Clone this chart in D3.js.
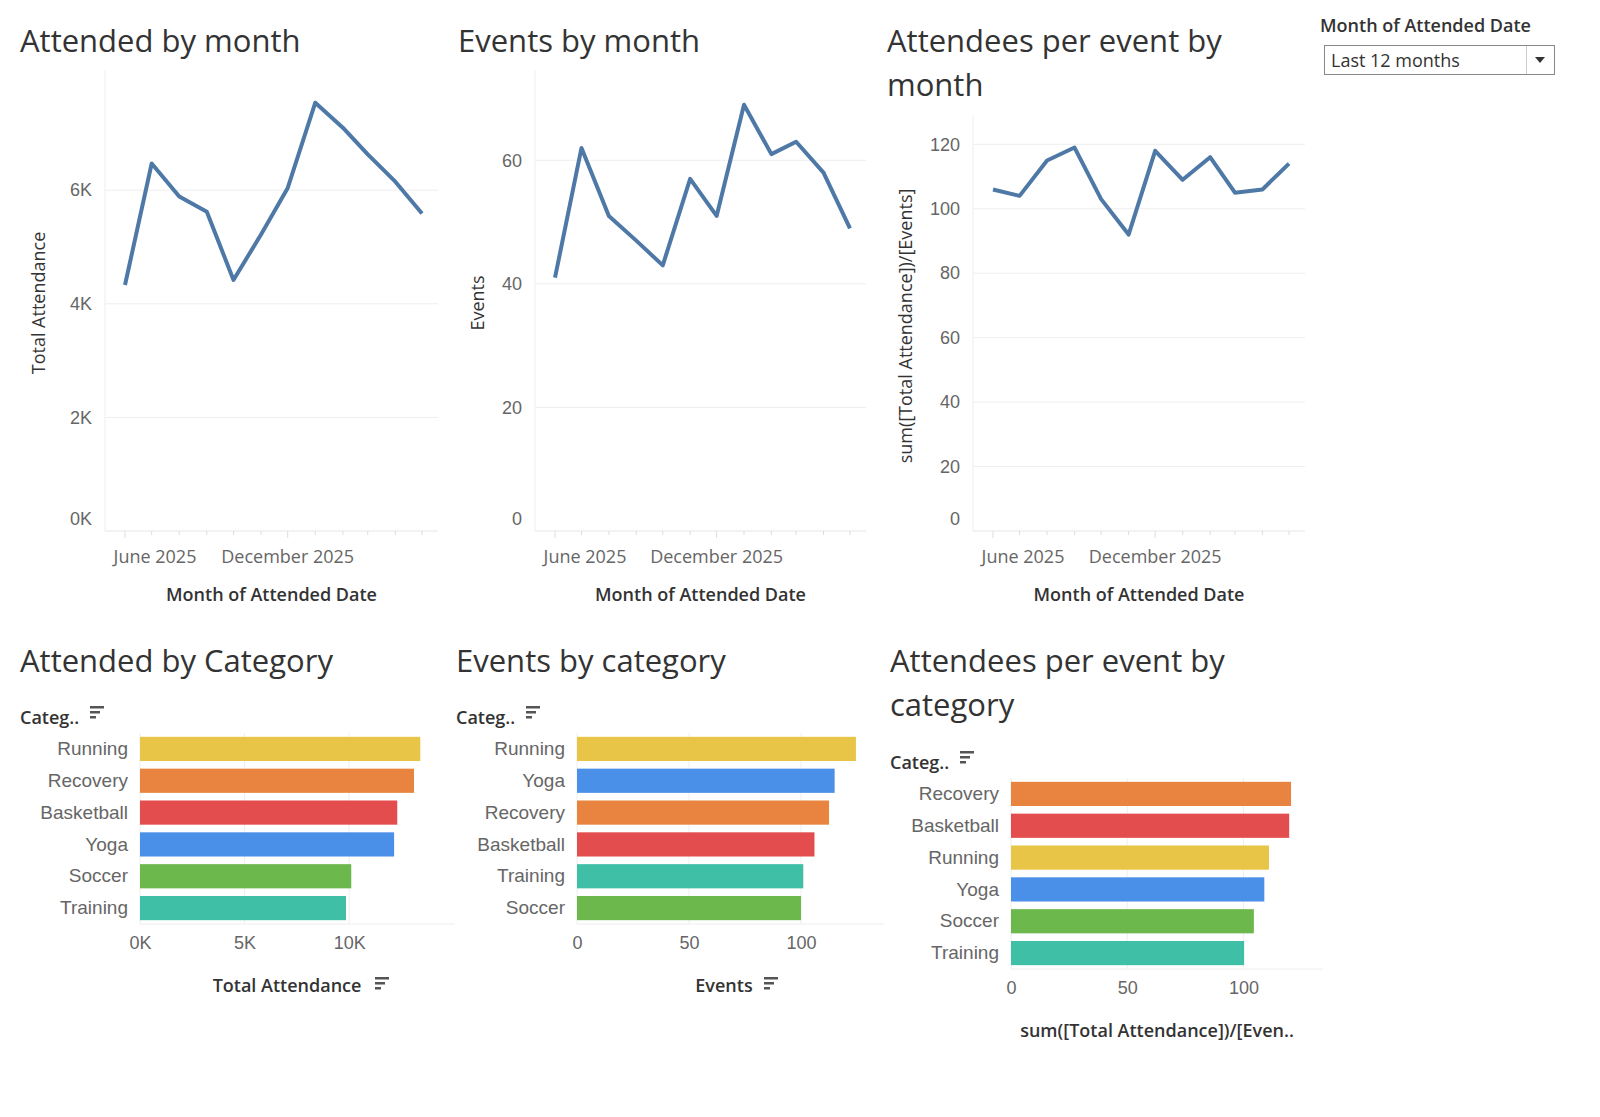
<!DOCTYPE html>
<html><head><meta charset="utf-8">
<script src="https://cdn.jsdelivr.net/npm/d3@7"></script>
<style>
body{margin:0;background:#fff;font-family:"Open Sans","Noto Sans",sans-serif;}
text{fill:#555;}
.title{font-size:31px;fill:#333;}
.tick text{font-size:18px;fill:#666;}
.atitle{font-size:18px;font-weight:600;fill:#333;}
</style></head><body>
<svg id="c" width="1600" height="1117"></svg>
<script>
const months = ["2025-06","2025-07","2025-08","2025-09","2025-10","2025-11","2025-12","2026-01","2026-02","2026-03","2026-04","2026-05"];
const attendedByMonth = [4330,6470,5890,5620,4420,5220,6040,7540,7100,6630,6150,5590];
const eventsByMonth = [41,62,51,47,43,57,51,69,61,63,58,49];
const perEventByMonth = [106,104,115,119,103,92,118,109,116,105,106,114];

const catAttended = ["Running","Recovery","Basketball","Yoga","Soccer","Training"];
const valAttended = [13400,13100,12300,12150,10100,9850];
const catEvents = ["Running","Yoga","Recovery","Basketball","Training","Soccer"];
const valEvents = [124.5,115,112.5,106,101,100];
const catPerEvent = ["Recovery","Basketball","Running","Yoga","Soccer","Training"];
const valPerEvent = [120.5,119.7,111,109,104.5,100.3];

const colors = {Running:"#E8C547",Recovery:"#E8843F",Basketball:"#E34D4D",Yoga:"#4A8FE8",Soccer:"#6DB84C",Training:"#3EBFA6"};
const svg = d3.select("#c");
const parse = d3.timeParse("%Y-%m");
const dates = months.map(parse);

function lineChart(o){
  const g = svg.append("g");
  g.append("text").attr("class","title").attr("x",o.tx).attr("y",52).text(o.title[0]);
  if(o.title[1]) g.append("text").attr("class","title").attr("x",o.tx).attr("y",96).text(o.title[1]);
  const x = d3.scaleTime().domain([dates[0],dates[dates.length-1]]).range([o.x0+20,o.x1-16]);
  const y = d3.scaleLinear().domain([0,o.max]).range([531,o.top]);
  // grid
  g.selectAll(".gl").data(o.ticks).join("line").attr("x1",o.x0).attr("x2",o.x1)
    .attr("y1",d=>y(d)).attr("y2",d=>y(d)).attr("stroke","#eee");
  g.append("line").attr("x1",o.x0).attr("x2",o.x0).attr("y1",o.top-10).attr("y2",531).attr("stroke","#eee");
  g.append("line").attr("x1",o.x0).attr("x2",o.x1).attr("y1",531).attr("y2",531).attr("stroke","#eee");
  const ya = g.append("g").attr("transform",`translate(${o.x0-10},0)`)
    .call(d3.axisLeft(y).tickValues(o.ticks).tickFormat(o.fmt).tickSize(0));
  ya.select(".domain").remove();
  ya.selectAll(".tick text").attr("dy",d=>d===0?"-0.35em":"0.32em");
  // x ticks
  g.selectAll(".xt").data(dates).join("line").attr("x1",d=>x(d)).attr("x2",d=>x(d))
    .attr("y1",531).attr("y2",(d,i)=>i%6===0?538:535).attr("stroke","#ddd");
  g.append("text").attr("x",x(dates[0])+30).attr("y",563).attr("text-anchor","middle")
    .style("font-size","18px").style("fill","#666").text("June 2025");
  g.append("text").attr("x",x(dates[6])).attr("y",563).attr("text-anchor","middle")
    .style("font-size","18px").style("fill","#666").text("December 2025");
  g.append("text").attr("class","atitle").attr("x",(o.x0+o.x1)/2).attr("y",601)
    .attr("text-anchor","middle").text("Month of Attended Date");
  g.append("text").attr("class","atitle").style("font-weight","500")
    .attr("transform",`translate(${o.yx},${o.yc}) rotate(-90)`).attr("text-anchor","middle").text(o.ytitle);
  g.append("path").datum(o.vals).attr("fill","none").attr("stroke","#4E79A7").attr("stroke-width",4)
    .attr("stroke-linejoin","round")
    .attr("d",d3.line().x((d,i)=>x(dates[i])).y(d=>y(d)));
}
lineChart({title:["Attended by month"],tx:20,x0:105,x1:438,top:80,max:7940,ticks:[0,2000,4000,6000],
  fmt:d=>d/1000+"K",vals:attendedByMonth,ytitle:"Total Attendance",yx:45,yc:303});
lineChart({title:["Events by month"],tx:458,x0:535,x1:866,top:80,max:73,ticks:[0,20,40,60],
  fmt:d=>d,vals:eventsByMonth,ytitle:"Events",yx:484,yc:303});
lineChart({title:["Attendees per event by","month"],tx:887,x0:973,x1:1305,top:125,max:126,ticks:[0,20,40,60,80,100,120],
  fmt:d=>d,vals:perEventByMonth,ytitle:"sum([Total Attendance])/[Events]",yx:912,yc:326});

function sortIcon(g,x,y){
  [14,10,6].forEach((w,i)=>g.append("rect").attr("x",x).attr("y",y+i*5).attr("width",w).attr("height",2.5).attr("fill","#555"));
}
function barChart(o){
  const g = svg.append("g");
  o.title.forEach((t,i)=>g.append("text").attr("class","title").attr("x",o.tx).attr("y",672+i*44).text(t));
  const y = d3.scaleBand().domain(o.cats).range([o.top,o.top+191]).paddingInner(0.24).paddingOuter(0.12);
  const x = d3.scaleLinear().domain([0,o.max]).range([o.x0,o.x1]);
  const bottom = o.top+191;
  g.selectAll(".vg").data(o.ticks).join("line").attr("x1",d=>x(d)).attr("x2",d=>x(d))
    .attr("y1",o.top).attr("y2",bottom).attr("stroke","#eee");
  g.append("line").attr("x1",o.x0).attr("x2",o.x1+18).attr("y1",bottom).attr("y2",bottom).attr("stroke","#eee");
  g.selectAll(".bar").data(o.vals).join("rect").attr("x",o.x0).attr("y",(d,i)=>y(o.cats[i]))
    .attr("height",y.bandwidth()).attr("width",d=>x(d)-o.x0).attr("fill",(d,i)=>colors[o.cats[i]]);
  const ya = g.append("g").attr("transform",`translate(${o.x0-9},0)`).call(d3.axisLeft(y).tickSize(0));
  ya.select(".domain").remove();
  ya.selectAll(".tick text").style("font-size","19px").style("fill","#666");
  g.append("text").attr("class","atitle").attr("x",o.tx).attr("y",o.top-9).text("Categ..");
  sortIcon(g,o.tx+70,o.top-27);
  const xa = g.append("g").attr("transform",`translate(0,${bottom+4})`)
    .call(d3.axisBottom(x).tickValues(o.ticks).tickFormat(o.fmt).tickSize(0));
  xa.select(".domain").remove();
  xa.selectAll(".tick text").attr("dy","1em");
  g.append("text").attr("class","atitle").attr("x",o.atx).attr("y",bottom+68)
    .attr("text-anchor","middle").text(o.atitle);
  if(o.sort) sortIcon(g,o.atx+o.sort,bottom+53);
}
barChart({title:["Attended by Category"],tx:20,top:733,x0:140,x1:437,max:14200,ticks:[0,5000,10000],
  fmt:d=>d/1000+"K",cats:catAttended,vals:valAttended,atitle:"Total Attendance",atx:287,sort:88});
barChart({title:["Events by category"],tx:456,top:733,x0:577,x1:866,max:129,ticks:[0,50,100],
  fmt:d=>d,cats:catEvents,vals:valEvents,atitle:"Events",atx:724,sort:40});
barChart({title:["Attendees per event by","category"],tx:890,top:778,x0:1011,x1:1305,max:126.5,ticks:[0,50,100],
  fmt:d=>d,cats:catPerEvent,vals:valPerEvent,atitle:"sum([Total Attendance])/[Even..",atx:1157,sort:0});

// filter
svg.append("text").attr("x",1320).attr("y",32).style("font-size","18px").style("font-weight","600").style("fill","#333").text("Month of Attended Date");
svg.append("rect").attr("x",1324.5).attr("y",45.5).attr("width",230).attr("height",29).attr("fill","#fff").attr("stroke","#888");
svg.append("line").attr("x1",1526.5).attr("x2",1526.5).attr("y1",46).attr("y2",74).attr("stroke","#ccc");
svg.append("text").attr("x",1331).attr("y",67).style("font-size","18px").style("fill","#333").text("Last 12 months");
svg.append("path").attr("d","M1535,57 L1545,57 L1540,63 Z").attr("fill","#333");
</script></body></html>
